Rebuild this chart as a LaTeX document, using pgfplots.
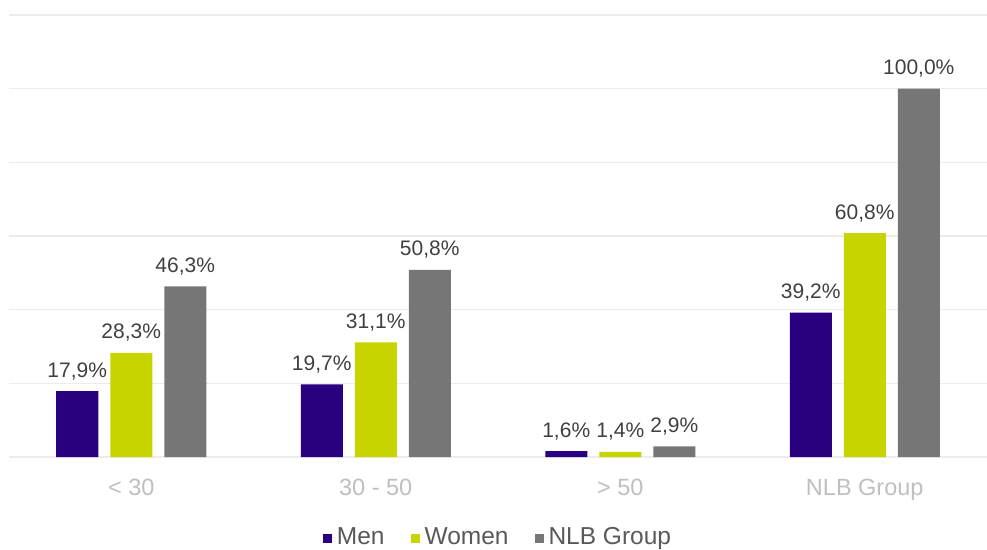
\documentclass[border=0pt]{standalone}
\usepackage{fontspec}
\setmainfont{Liberation Sans}
\usepackage{pgfplots}
\pgfplotsset{compat=1.18}
\definecolor{menc}{RGB}{40,0,128}
\definecolor{womc}{RGB}{200,212,0}
\definecolor{nlbc}{RGB}{118,118,118}
\definecolor{gridc}{RGB}{236,236,236}
\definecolor{tickc}{RGB}{191,191,191}
\definecolor{labc}{RGB}{64,64,64}
\definecolor{legc}{RGB}{89,89,89}
\pgfplotsset{legsq/.style={legend image code/.code={\fill[##1] (0pt,-6pt) rectangle (9pt,3pt); \path (0pt,0pt) -- (12pt,0pt);}}}
\begin{document}
\begin{tikzpicture}
\path[use as bounding box] (0,0) rectangle (987pt,549pt);
\begin{axis}[
 at={(9pt,92pt)}, anchor=south west, scale only axis, width=978pt, height=442pt,
 xmin=-0.5, xmax=3.5, ymin=0, ymax=120,
 axis line style={draw=none},
 ytick={0,20,...,120}, yticklabels={}, ymajorgrids, grid style={gridc, line width=1.5pt},
 major tick length=0pt,
 xtick={0,1,2,3}, xticklabels={< 30, 30 - 50, > 50, NLB Group},
 xticklabel style={font=\fontsize{23.5}{27}\selectfont, text=tickc, anchor=base, inner sep=0pt, yshift=-38pt},
 ybar, bar width=42pt,
 point meta=explicit symbolic,
 nodes near coords,
 nodes near coords style={font=\fontsize{21}{25}\selectfont, text=labc, anchor=base, inner sep=0pt, yshift=14pt},
 legend columns=3,
 legend style={at={(0.5,-0.181)}, anchor=center, draw=none, fill=none, font=\fontsize{24.5}{28}\selectfont, text=legc,
   /tikz/every even column/.append style={column sep=24pt}},
]
\addplot[fill=menc, draw=none, bar shift=-54pt, legsq] coordinates {(0,17.9)[17,9\%] (1,19.7)[19,7\%] (2,1.6)[1,6\%] (3,39.2)[39,2\%]};
\addplot[fill=womc, draw=none, bar shift=0pt, legsq] coordinates {(0,28.3)[28,3\%] (1,31.1)[31,1\%] (2,1.4)[1,4\%] (3,60.8)[60,8\%]};
\addplot[fill=nlbc, draw=none, bar shift=54pt, legsq] coordinates {(0,46.3)[46,3\%] (1,50.8)[50,8\%] (2,2.9)[2,9\%] (3,100.0)[100,0\%]};
\legend{Men, Women, NLB Group}
\end{axis}
\end{tikzpicture}
\end{document}
